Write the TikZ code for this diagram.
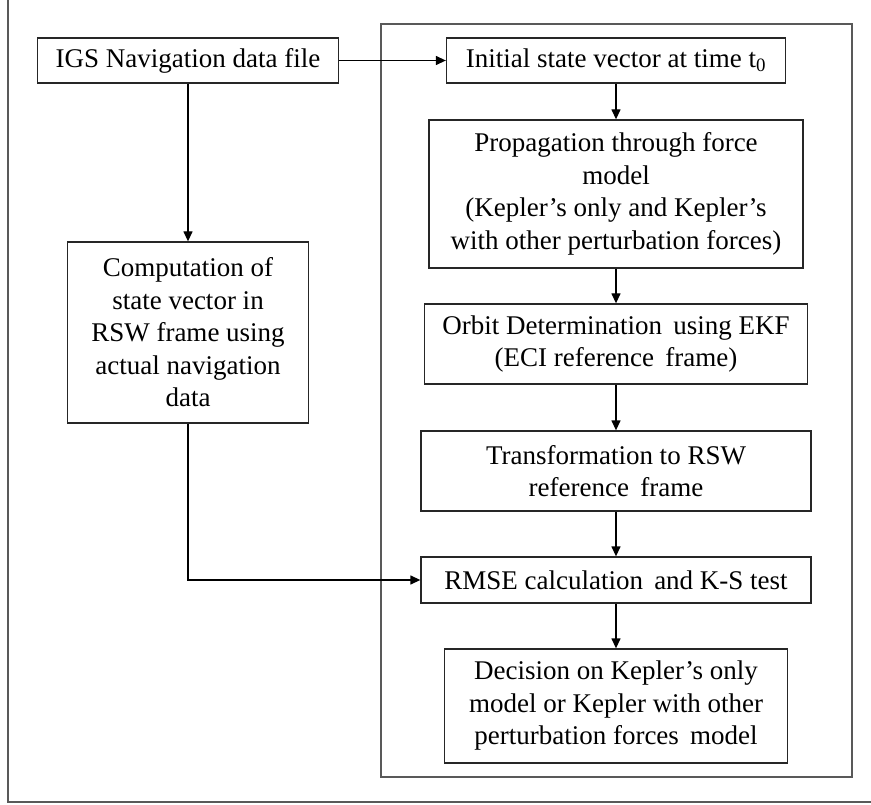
\documentclass[tikz,border=0pt]{standalone}
\usepackage{fontspec}
\setmainfont{Liberation Serif}
\usetikzlibrary{arrows.meta}
\begin{document}
\begin{tikzpicture}[x=1pt,y=-1pt,
  box/.style={draw=black!85, line width=1.3pt, inner sep=0pt, align=center, font=\fontsize{27}{32.5}\selectfont},
  arr/.style={draw=black, line width=1.3pt, -{Triangle[length=10pt,width=9pt]}},
  framebox/.style={draw=black!65, line width=2pt}]
\useasboundingbox (0,0) rectangle (871,805);
% frames
\draw[framebox] (8,0) -- (8,802) -- (871,802);
\draw[framebox, line width=1.6pt] (381,24) rectangle (852,777);
% left column
\node[box, minimum width=301pt, minimum height=45pt] (igs) at (188,60.5) {IGS Navigation data file};
\node[box, minimum width=241pt, minimum height=181pt] (comp) at (188,332.5) {Computation of\\state vector in\\RSW frame using\\actual navigation\\data};
% right column
\node[box, minimum width=339pt, minimum height=45pt] (init) at (616,60.5) {Initial state vector at time t\textsubscript{0}};
\node[box, minimum width=374pt, minimum height=148pt] (prop) at (616,194) {Propagation through force\\model\\(Kepler’s only and Kepler’s\\with other perturbation forces)};
\node[box, minimum width=383pt, minimum height=80pt] (orbit) at (616,344) {Orbit Determination\, using EKF\\(ECI reference\, frame)};
\node[box, minimum width=390pt, minimum height=80pt] (trans) at (616,471) {Transformation to RSW\\reference\, frame};
\node[box, minimum width=390pt, minimum height=46pt] (rmse) at (616,580) {RMSE calculation\, and K-S test};
\node[box, minimum width=343pt, minimum height=114pt] (dec) at (616,706) {Decision on Kepler’s only\\model or Kepler with other\\perturbation forces\, model};
% connectors
\draw[arr] (igs.east) -- (init.west);
\draw[arr] (igs.south) -- (comp.north);
\draw[arr] (init.south) -- (prop.north);
\draw[arr] (prop.south) -- (orbit.north);
\draw[arr] (orbit.south) -- (trans.north);
\draw[arr] (trans.south) -- (rmse.north);
\draw[arr] (rmse.south) -- (dec.north);
\draw[arr] (comp.south) |- (rmse.west);
\end{tikzpicture}
\end{document}
